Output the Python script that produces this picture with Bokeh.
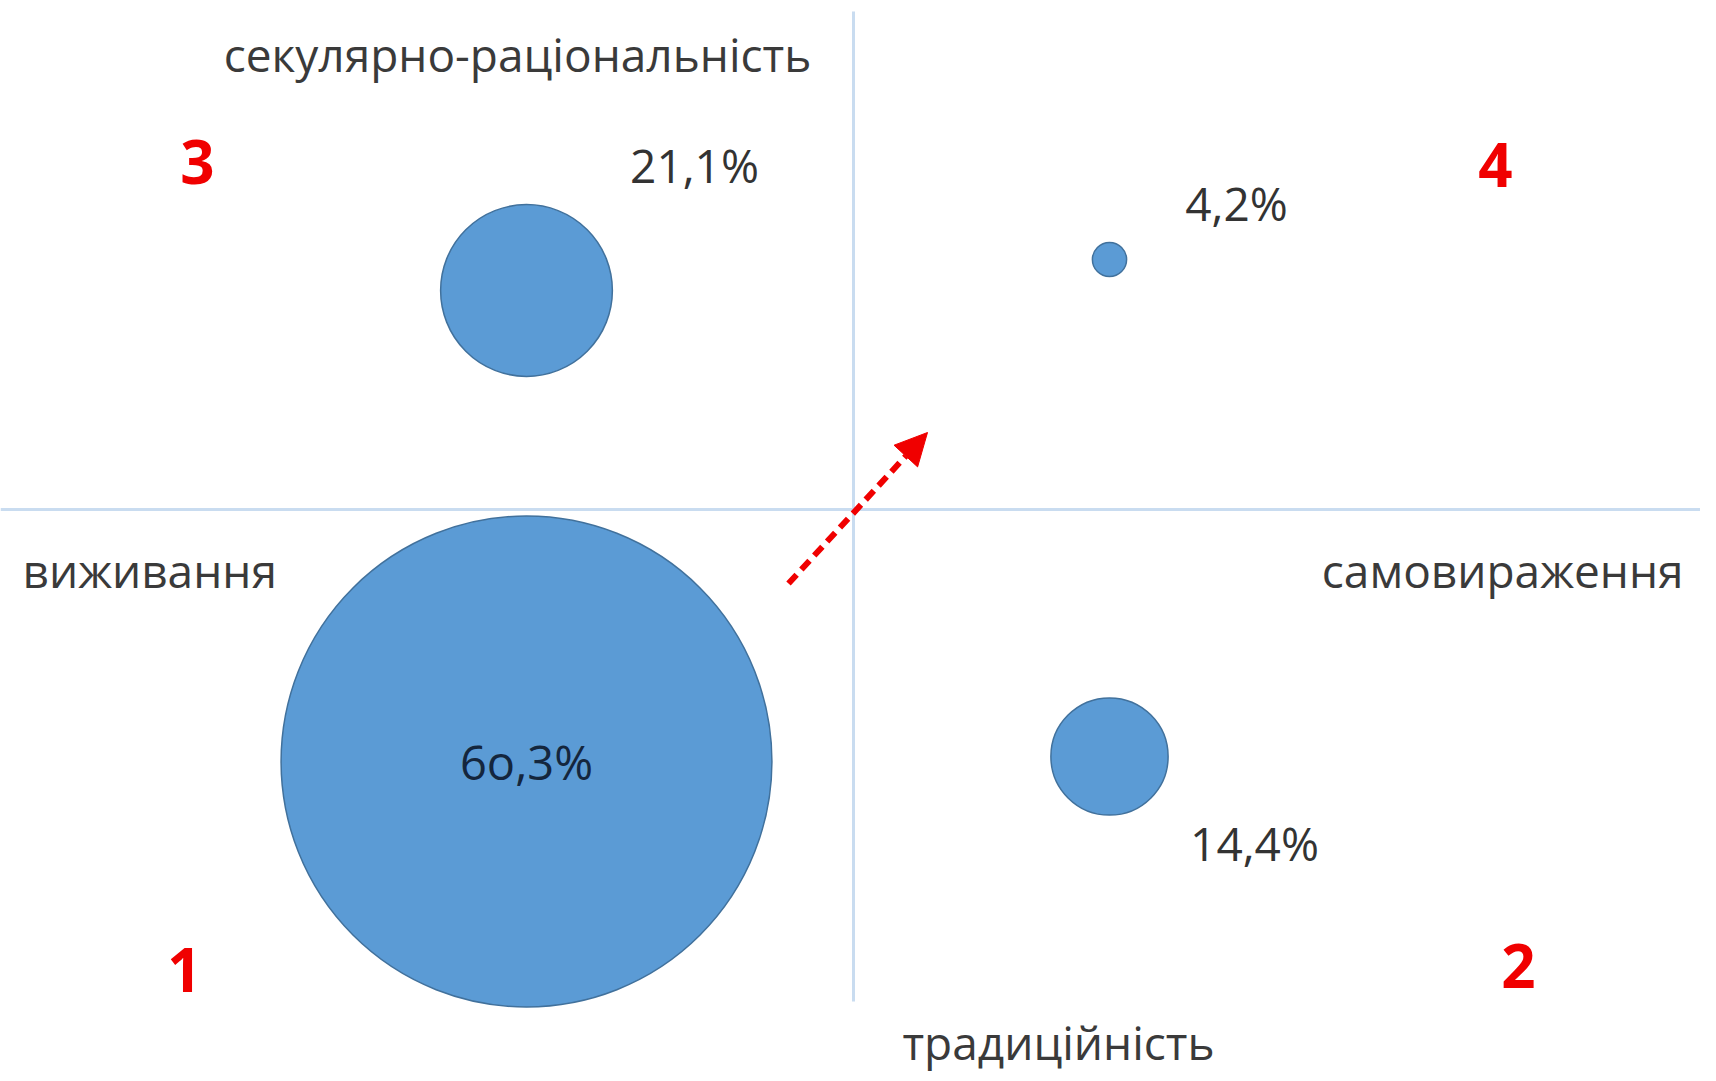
from bokeh.plotting import figure
from bokeh.models import ColumnDataSource, Range1d, Arrow, NormalHead, Span
from bokeh.core.properties import value
from bokeh.embed import file_html
from bokeh.resources import INLINE

# ---- data ----
groups = ["1", "2", "3", "4"]
shares = [60.3, 14.4, 21.1, 4.2]
share_labels = ["6o,3%", "14,4%", "21,1%", "4,2%"]
# position on the two value axes (x: survival -> self-expression, y: traditional -> secular-rational)
pos_x = [-3.27, 2.56, -3.27, 2.56]
pos_y = [-2.52, -2.47, 2.19, 2.50]
axis_names = ["секулярно-раціональність", "виживання", "самовираження", "традиційність"]

FONT = value("Open Sans")
R_SCALE = 0.0407  # data units of radius per percent

p = figure(width=1700, height=1073, output_backend="svg", toolbar_location=None,
           x_range=Range1d(-8.53, 8.47), y_range=Range1d(-5.64, 5.09),
           x_axis_location=None, y_axis_location=None, min_border=0,
           outline_line_color=None, background_fill_color="white")
p.xgrid.visible = False
p.ygrid.visible = False

# quadrant lines
p.add_layout(Span(location=0, dimension="width", line_color="#c9dcf0", line_width=3))
p.segment(x0=[0], y0=[4.98], x1=[0], y1=[-4.92], line_color="#c9dcf0", line_width=3)

# bubbles
src = ColumnDataSource(dict(x=pos_x, y=pos_y, r=[s * R_SCALE for s in shares]))
p.circle(x="x", y="y", radius="r", source=src, fill_color="#5b9bd5",
         line_color="#41719c", line_width=1.5)

# percentage labels (first one inside the large bubble)
big = ColumnDataSource(dict(x=pos_x[:1], y=pos_y[:1], lab=share_labels[:1]))
p.text(x="x", y="y", text="lab", source=big, text_font=FONT, text_font_size="47px",
       text_color="#14263d", text_align="center", text_baseline="middle")
small = ColumnDataSource(dict(x=pos_x[1:], y=pos_y[1:], lab=share_labels[1:],
                              xo=[145, 168, 127], yo=[86, -126, -57]))
p.text(x="x", y="y", text="lab", source=small, x_offset="xo", y_offset="yo",
       text_font=FONT, text_font_size="46px", text_color="#333333",
       text_align="center", text_baseline="middle")

# axis names
p.text(x=[-3.36], y=[4.56], text=[axis_names[0]], text_font=FONT, text_font_size="46px",
       text_color="#3a3a3a", text_align="center", text_baseline="middle")
p.text(x=[-8.31], y=[-0.60], text=[axis_names[1]], text_font=FONT, text_font_size="46px",
       text_color="#3a3a3a", text_align="left", text_baseline="middle")
p.text(x=[8.30], y=[-0.60], text=[axis_names[2]], text_font=FONT, text_font_size="46px",
       text_color="#3a3a3a", text_align="right", text_baseline="middle")
p.text(x=[2.05], y=[-5.32], text=[axis_names[3]], text_font=FONT, text_font_size="46px",
       text_color="#3a3a3a", text_align="center", text_baseline="middle")

# red quadrant numbers
p.text(x=[-6.69, 6.65, -6.56, 6.42], y=[-4.60, -4.56, 3.48, 3.45], text=groups,
       text_font=FONT, text_font_size="60px", text_font_style="bold",
       text_color="#f00000", text_align="center", text_baseline="middle")

# movement arrow
p.add_layout(Arrow(x_start=-0.65, y_start=-0.74, x_end=0.74, y_end=0.77,
                   line_color="#f00000", line_width=6, line_dash="12 7",
                   end=NormalHead(size=32, fill_color="#f00000", line_color="#f00000")))

open("out.html", "w").write(file_html(p, INLINE))
